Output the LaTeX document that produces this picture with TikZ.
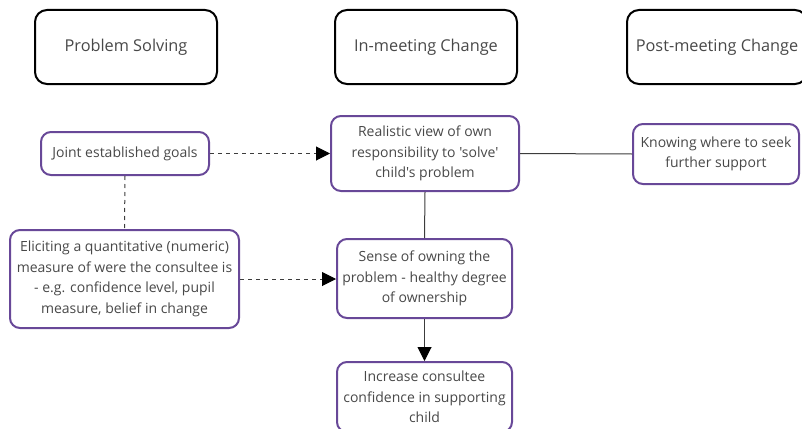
\documentclass[tikz,border=0pt]{standalone}
\usepackage{fontspec}
\setmainfont[Ligatures=TeXOff]{Open Sans}
\usetikzlibrary{arrows.meta}
\definecolor{boxpurple}{RGB}{104,72,152}
\definecolor{txtgray}{RGB}{72,72,72}
\definecolor{linegray}{RGB}{60,60,60}
\tikzset{
  header/.style={draw=black, line width=2pt, rounded corners=12pt, text=txtgray,
    font=\fontsize{16.3}{20}\selectfont, minimum width=182pt, minimum height=74pt, anchor=center},
  item/.style={draw=boxpurple, line width=2pt, rounded corners=10pt, text=txtgray,
    font=\fontsize{14}{20.5}\selectfont, align=center, inner sep=0pt, anchor=center},
  link/.style={draw=linegray, line width=1pt},
  dlink/.style={link, dash pattern=on 4pt off 4pt},
  headtip/.style={-{Triangle[length=14pt,width=14pt,fill=black,color=black]}}
}
\begin{document}
\begin{tikzpicture}[x=1pt,y=-1pt]
\useasboundingbox (0,0) rectangle (802,428);
\clip (0,0) rectangle (802,428);
% column headers
\node[header] (hps) at (126,47) {Problem Solving};
\node[header] (him) at (426,47) {In-meeting Change};
\node[header, minimum width=180pt] (hpm) at (717,47) {Post-meeting Change};
% content boxes
\node[item, minimum width=168pt, minimum height=43pt] (goals) at (125,153.5) {Joint established goals};
\node[item, minimum width=188pt, minimum height=75pt] (view) at (425,153.5)
  {Realistic view of own\\responsibility to 'solve'\\child's problem};
\node[item, minimum width=166pt, minimum height=60pt] (seek) at (716,154)
  {Knowing where to seek\\further support};
\node[item, minimum width=229pt, minimum height=98pt] (elicit) at (124.5,279)
  {Eliciting a quantitative (numeric)\\measure of were the consultee is\\- e.g. confidence level, pupil\\measure, belief in change};
\node[item, minimum width=175pt, minimum height=79pt] (own) at (424.5,278.5)
  {Sense of owning the\\problem - healthy degree\\of ownership};
\node[item, minimum width=175pt, minimum height=70pt] (conf) at (424.5,397)
  {Increase consultee\\confidence in supporting\\child};
% connectors
\draw[dlink, headtip] (goals.east) -- (view.west);
\draw[dlink] (goals.south) -- (elicit.north);
\draw[dlink, headtip] (elicit.east) -- (elicit.east -| own.west);
\draw[link] (view.east) -- (seek.west);
\draw[link] (view.south) -- (own.north);
\draw[link, headtip] (own.south) -- (conf.north);
\end{tikzpicture}
\end{document}
